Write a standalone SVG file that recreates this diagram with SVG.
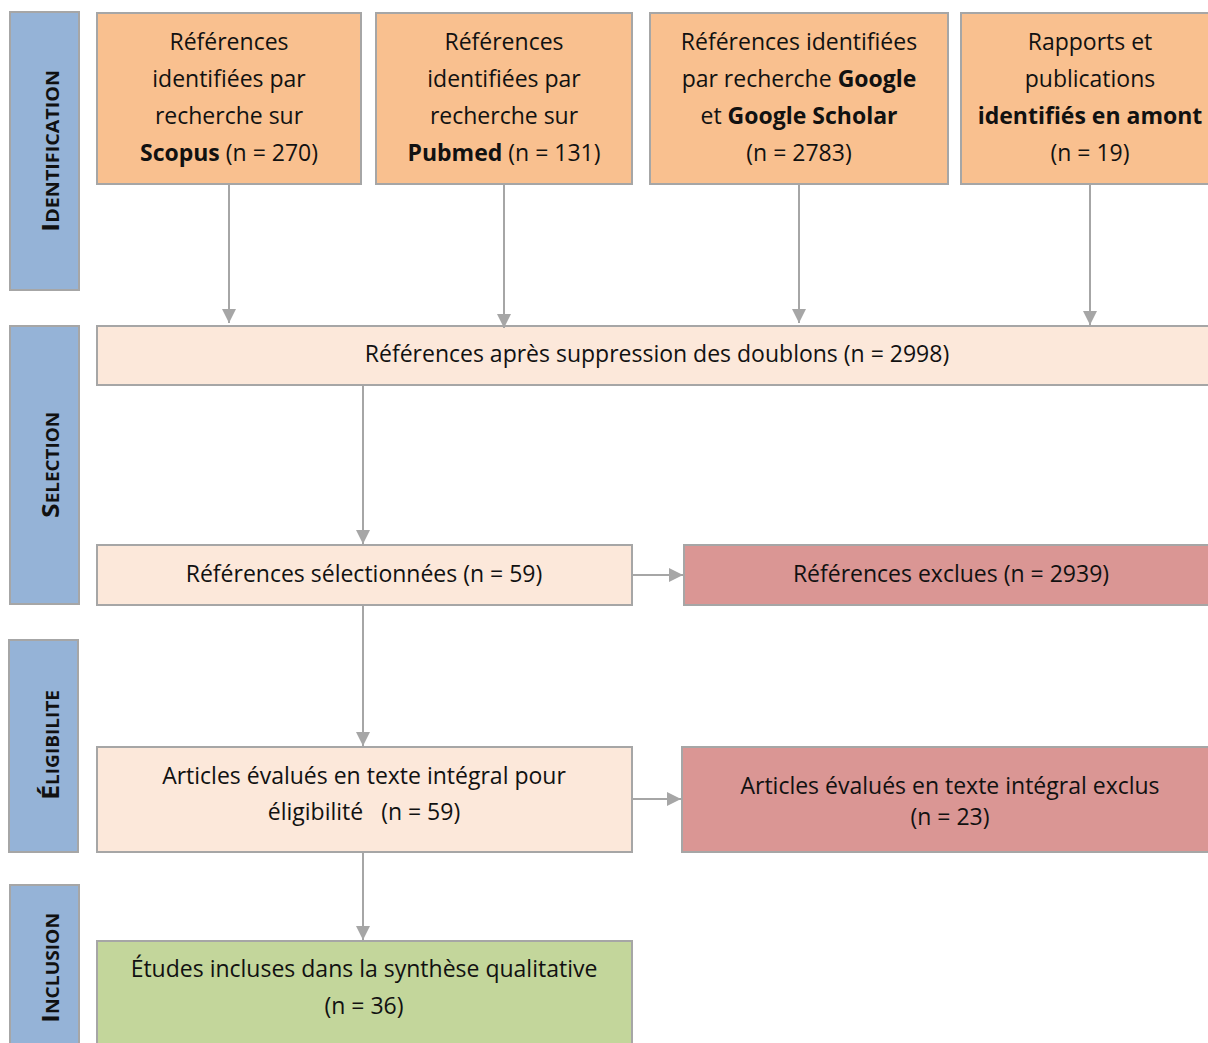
<svg xmlns="http://www.w3.org/2000/svg" width="1208" height="1043" viewBox="0 0 1208 1043">
<style>
.box{stroke:#A6A6A6;stroke-width:2}
.side{fill:#95B3D7}
.orange{fill:#F9C08F}
.light{fill:#FCE8DA}
.red{fill:#DA9694}
.green{fill:#C3D69B}
.t{font-family:"Open Sans","Noto Sans","Liberation Sans",sans-serif;font-size:23px;fill:#111;text-anchor:middle}
.b{font-weight:bold}
.s{font-family:"Open Sans","Noto Sans","Liberation Sans",sans-serif;font-weight:bold;fill:#111;text-anchor:middle;font-size:17px}
.big{font-size:24px}
.c{stroke:#A6A6A6;stroke-width:2;fill:none}
</style>
<defs>
<marker id="ah" viewBox="0 0 10 10" refX="10" refY="5" markerWidth="7" markerHeight="7" markerUnits="strokeWidth" orient="auto">
<path d="M0,0 L10,5 L0,10 z" fill="#A6A6A6"/>
</marker>
</defs>
<rect width="1208" height="1043" fill="#fff"/>

<g id="phase-identification">
<rect class="box side" x="10" y="12" width="69" height="278"/>
<text class="s" transform="translate(59,151) rotate(-90)" textLength="162" lengthAdjust="spacingAndGlyphs"><tspan class="big">I</tspan>DENTIFICATION</text>
</g>
<g id="phase-selection">
<rect class="box side" x="10" y="326" width="69" height="278"/>
<text class="s" transform="translate(59,465) rotate(-90)" textLength="106" lengthAdjust="spacingAndGlyphs"><tspan class="big">S</tspan>ELECTION</text>
</g>
<g id="phase-eligibilite">
<rect class="box side" x="9" y="640" width="69" height="212"/>
<text class="s" transform="translate(59,745) rotate(-90)" textLength="110" lengthAdjust="spacingAndGlyphs"><tspan class="big">É</tspan>LIGIBILITE</text>
</g>
<g id="phase-inclusion">
<rect class="box side" x="10" y="885" width="69" height="170"/>
<text class="s" transform="translate(59,968) rotate(-90)" textLength="110" lengthAdjust="spacingAndGlyphs"><tspan class="big">I</tspan>NCLUSION</text>
</g>

<g id="scopus">
<rect class="box orange" x="97" y="13" width="264" height="171"/>
<text class="t" x="229" y="50">Références</text>
<text class="t" x="229" y="87">identifiées par</text>
<text class="t" x="229" y="124">recherche sur</text>
<text class="t" x="229" y="161"><tspan class="b">Scopus</tspan> (n = 270)</text>
</g>
<g id="pubmed">
<rect class="box orange" x="376" y="13" width="256" height="171"/>
<text class="t" x="504" y="50">Références</text>
<text class="t" x="504" y="87">identifiées par</text>
<text class="t" x="504" y="124">recherche sur</text>
<text class="t" x="504" y="161"><tspan class="b">Pubmed</tspan> (n = 131)</text>
</g>
<g id="google">
<rect class="box orange" x="650" y="13" width="298" height="171"/>
<text class="t" x="799" y="50">Références identifiées</text>
<text class="t" x="799" y="87">par recherche <tspan class="b">Google</tspan></text>
<text class="t" x="799" y="124">et <tspan class="b">Google Scholar</tspan></text>
<text class="t" x="799" y="161">(n = 2783)</text>
</g>
<g id="amont">
<rect class="box orange" x="961" y="13" width="260" height="171"/>
<text class="t" x="1090" y="50">Rapports et</text>
<text class="t" x="1090" y="87">publications</text>
<text class="t b" x="1090" y="124">identifiés en amont</text>
<text class="t" x="1090" y="161">(n = 19)</text>
</g>

<g id="doublons">
<rect class="box light" x="97" y="326" width="1124" height="59"/>
<text class="t" x="657" y="362">Références après suppression des doublons (n = 2998)</text>
</g>
<g id="selectionnees">
<rect class="box light" x="97" y="545" width="535" height="60"/>
<text class="t" x="364" y="582">Références sélectionnées (n = 59)</text>
</g>
<g id="exclues">
<rect class="box red" x="684" y="545" width="537" height="60"/>
<text class="t" x="951" y="582">Références exclues (n = 2939)</text>
</g>
<g id="eligibilite">
<rect class="box light" x="97" y="747" width="535" height="105"/>
<text class="t" x="364" y="784">Articles évalués en texte intégral pour</text>
<text class="t" x="364" y="820" xml:space="preserve">éligibilité   (n = 59)</text>
</g>
<g id="exclus-texte">
<rect class="box red" x="682" y="747" width="539" height="105"/>
<text class="t" x="950" y="794">Articles évalués en texte intégral exclus</text>
<text class="t" x="950" y="825">(n = 23)</text>
</g>
<g id="incluses">
<rect class="box green" x="97" y="941" width="535" height="110"/>
<text class="t" x="364" y="977">Études incluses dans la synthèse qualitative</text>
<text class="t" x="364" y="1014">(n = 36)</text>
</g>

<g id="connectors">
<line class="c" x1="229" y1="185" x2="229" y2="323" marker-end="url(#ah)"/>
<line class="c" x1="504" y1="185" x2="504" y2="328" marker-end="url(#ah)"/>
<line class="c" x1="799" y1="185" x2="799" y2="323" marker-end="url(#ah)"/>
<line class="c" x1="1090" y1="185" x2="1090" y2="325" marker-end="url(#ah)"/>
<line class="c" x1="363" y1="386" x2="363" y2="544" marker-end="url(#ah)"/>
<line class="c" x1="633" y1="575" x2="683" y2="575" marker-end="url(#ah)"/>
<line class="c" x1="363" y1="606" x2="363" y2="746" marker-end="url(#ah)"/>
<line class="c" x1="633" y1="799" x2="681" y2="799" marker-end="url(#ah)"/>
<line class="c" x1="363" y1="853" x2="363" y2="940" marker-end="url(#ah)"/>
</g>
</svg>
